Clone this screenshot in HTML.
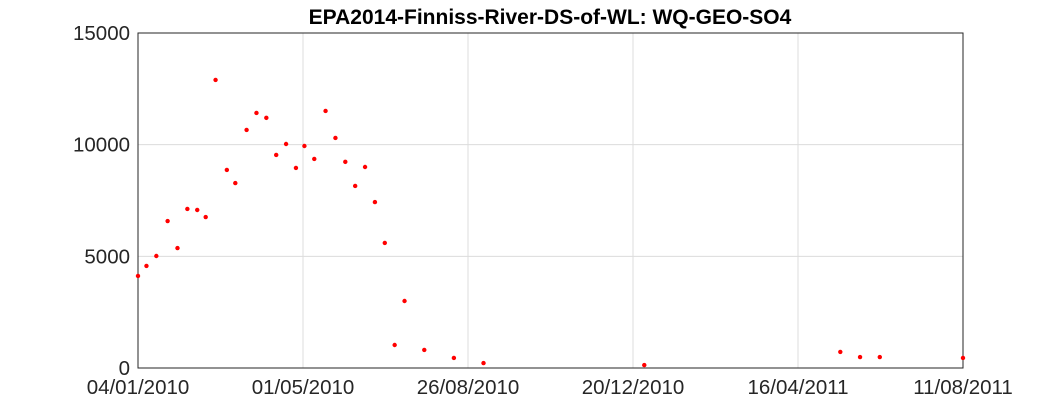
<!DOCTYPE html>
<html><head><meta charset="utf-8"><style>
body{margin:0;background:#fff;}
svg{display:block;font-family:"Liberation Sans",Arial,sans-serif;}
</style></head><body>
<svg id="chart" width="1063" height="413">
<text x="550" y="24" text-anchor="middle" font-size="21" font-weight="bold" fill="#000">EPA2014-Finniss-River-DS-of-WL: WQ-GEO-SO4</text>
<g id="grid"></g><g id="axes"></g><g id="pts"></g>
</svg>
<script>
const xTickLabels=["04/01/2010","01/05/2010","26/08/2010","20/12/2010","16/04/2011","11/08/2011"];
const xTickDays=[0,117,234,351,468,585];
const yTicks=[0,5000,10000,15000];
const dayOffsets=[0,6,13,21,28,35,42,48,55,63,69,77,84,91,98,105,112,118,125,133,140,147,154,161,168,175,182,189,203,224,245,359,498,512,526,585];
const so4Values=[4120,4570,5015,6580,5370,7120,7075,6760,12900,8870,8280,10660,11420,11200,9540,10030,8960,9940,9360,11510,10300,9230,8150,9000,7430,5600,1030,3000,810,450,220,130,720,490,490,450];
const L=138,R=963,T=33,B=368;
const xs=d=>L+(d-0)/(585)*(R-L);
const ys=v=>B-v/15000*(B-T);
const NS="http://www.w3.org/2000/svg";
function mk(tag,attrs,parent){const e=document.createElementNS(NS,tag);for(const k in attrs)e.setAttribute(k,attrs[k]);document.getElementById(parent).appendChild(e);return e;}
xTickDays.forEach((d,i)=>{
  const g=mk('line',{x1:xs(d),x2:xs(d),y1:T,y2:B,stroke:'#dcdcdc','stroke-width':1},'grid');
  
  
  const t=mk('text',{x:xs(d),y:B+26,'text-anchor':'middle','font-size':20.5,fill:'#262626'},'axes');
  t.textContent=xTickLabels[i];
  
  
});
yTicks.forEach(v=>{
  const g=mk('line',{x1:L,x2:R,y1:ys(v),y2:ys(v),stroke:'#dcdcdc','stroke-width':1},'grid');
  
  
  const t=mk('text',{x:L-8,y:ys(v)+7,'text-anchor':'end','font-size':20.5,fill:'#262626'},'axes');
  t.textContent=v;
  
  
});
const box=mk('rect',{x:L,y:T,width:R-L,height:B-T,fill:'none',stroke:'#262626','stroke-width':1},'axes');


dayOffsets.forEach((d,i)=>{
  const c=mk('circle',{cx:xs(d),cy:ys(so4Values[i]),r:2.2,fill:'#ff0000'},'pts');
  
  
});
</script>
</body></html>
